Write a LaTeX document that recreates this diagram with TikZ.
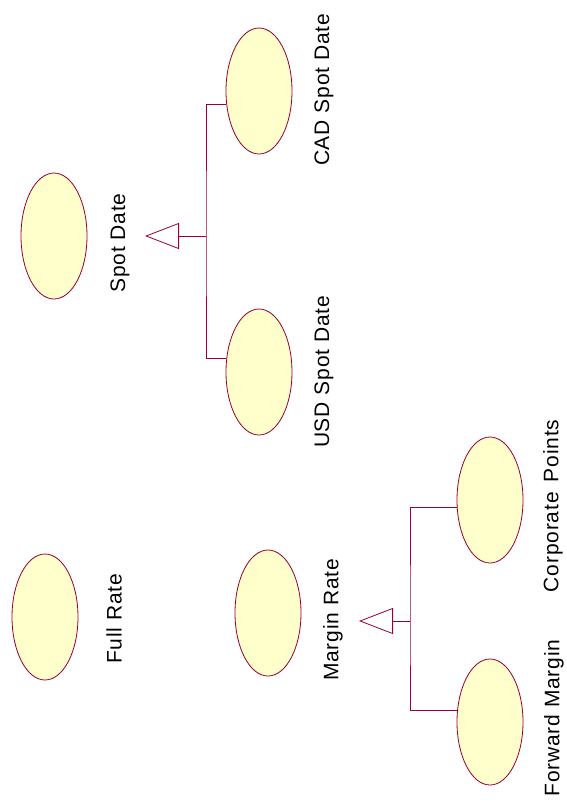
\documentclass[tikz,border=0pt]{standalone}
\usepackage{fontspec}
\setmainfont{Liberation Sans}
\newfontfamily\lblfont[LetterSpace=4]{Liberation Sans}
\usetikzlibrary{shapes.geometric,arrows.meta}

\definecolor{umlline}{RGB}{153,0,51}
\definecolor{umlfill}{RGB}{255,255,204}

\begin{document}
\begin{tikzpicture}[%
  x=1pt, y=1pt,
  usecase/.style = {ellipse, draw=umlline, fill=umlfill, line width=0.8pt,
                    minimum width=66pt, minimum height=126pt, inner sep=0pt},
  lbl/.style = {rotate=90, font=\lblfont\fontsize{21}{25}\selectfont, inner sep=0pt},
  line/.style = {draw=umlline, line width=0.8pt},
  gen/.style = {line, -{Triangle[open, length=34pt, width=26pt]}},
]
  \useasboundingbox (0,0) rectangle (566,-809);

  % spot dates
  \node[usecase] (spot) at (54,-236) {};
  \node[lbl] (spotlbl) at (120,-243) {Spot Date};
  \node[usecase] (cad) at (259,-91) {};
  \node[lbl] (cadlbl) at (324,-90) {CAD Spot Date};
  \node[usecase] (usd) at (259,-372) {};
  \node[lbl] (usdlbl) at (324,-372) {USD Spot Date};

  \coordinate (spotbar) at (206,-236);
  \coordinate (spottip) at (145,-236);
  \draw[line] (cad.202) -| (spotbar) |- (usd.157);
  \draw[gen] (spotbar) -- (spottip);

  % rates
  \node[usecase] (full) at (45,-617) {};
  \node[lbl] (fulllbl) at (114,-619) {Full Rate};
  \node[usecase] (margin) at (268,-613) {};
  \node[lbl] (marginlbl) at (333,-620) {Margin Rate};
  \node[usecase] (corp) at (490,-500) {};
  \node[lbl] (corplbl) at (553,-506) {Corporate\hspace{10pt}Points};
  \node[usecase] (fwd) at (490,-722) {};
  \node[lbl] (fwdlbl) at (554,-718) {Forward Margin};

  \coordinate (marginbar) at (410,-621);
  \coordinate (margintip) at (359,-621);
  \draw[line] (corp.192) -| (marginbar) |- (fwd.160);
  \draw[gen] (marginbar) -- (margintip);

\end{tikzpicture}
\end{document}
